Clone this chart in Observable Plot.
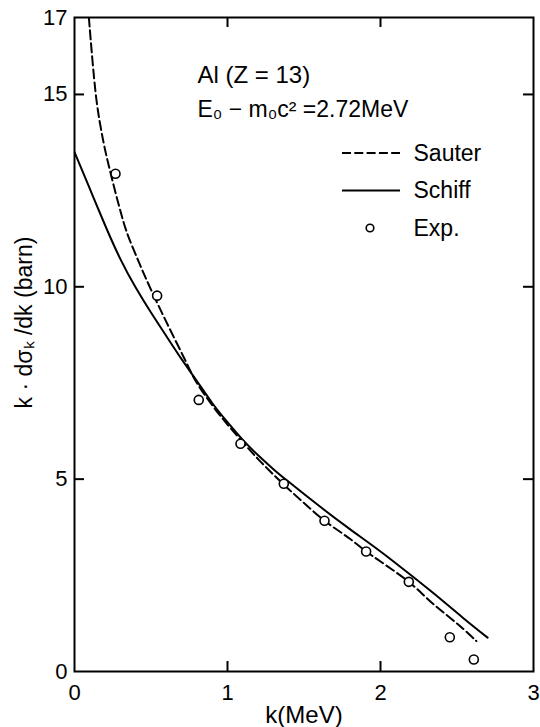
<!DOCTYPE html>
<html><head><meta charset="utf-8">
<script src="https://cdn.jsdelivr.net/npm/d3@7"></script>
<script src="https://cdn.jsdelivr.net/npm/@observablehq/plot@0.6"></script>
<style>
body{margin:0;background:#fff;}
</style>
</head><body><div id="chart"></div>
<script>
// ---- data ----
const sauterK = [0.094, 0.144, 0.19, 0.235, 0.29, 0.34, 0.425, 0.503, 0.606, 0.714, 0.791, 0.9, 1.0, 1.1, 1.2, 1.3, 1.4, 1.5, 1.634, 1.8, 1.906, 2.0, 2.185, 2.349, 2.523, 2.627];
const sauterY = [17.0, 14.84, 13.75, 12.97, 12.12, 11.44, 10.6, 9.90, 9.04, 8.17, 7.56, 6.92, 6.42, 5.96, 5.52, 5.12, 4.74, 4.38, 3.92, 3.45, 3.12, 2.86, 2.33, 1.74, 1.17, 0.79];
const schiffK = [0, 0.1, 0.2, 0.3, 0.4, 0.5, 0.6, 0.7, 0.8, 0.9, 1.0, 1.1, 1.2, 1.3, 1.4, 1.6, 1.8, 2.0, 2.2, 2.4, 2.55, 2.7];
const schiffY = [13.5, 12.55, 11.6, 10.72, 9.98, 9.33, 8.72, 8.12, 7.55, 6.98, 6.48, 6.02, 5.62, 5.26, 4.93, 4.3, 3.7, 3.12, 2.5, 1.86, 1.36, 0.88];
const expK = [0.268, 0.54, 0.812, 1.085, 1.368, 1.634, 1.906, 2.185, 2.453, 2.610];
const expY = [12.94, 9.77, 7.06, 5.92, 4.88, 3.92, 3.12, 2.33, 0.89, 0.31];

const xTickLabels = [0, 1, 2, 3];
const yTickLabels = [0, 5, 10, 15, 17];
const xInnerTicks = [1, 2];
const yInnerTicks = [5, 10, 15];

const xLabel = "k(MeV)";
const yLabel = "k · dσₖ /dk (barn)";
const note1 = "Al (Z = 13)";
const note2 = "E₀ − m₀c² =2.72MeV";
const legendLabels = ["Sauter", "Schiff", "Exp."];
const legendKinds = ["dash", "solid", "dot"];

// ---- layout ----
const W = 540, H = 727, mL = 74, mR = 7, mT = 17, mB = 56;
const fw = W - mL - mR, fh = H - mT - mB;
const font = "'Liberation Sans', Arial, sans-serif";
const rowGap = 37.5;

const sauter = sauterK.map((k, i) => ({k, v: sauterY[i]}));
const schiff = schiffK.map((k, i) => ({k, v: schiffY[i]}));
const exp = expK.map((k, i) => ({k, v: expY[i]}));
const legend = legendLabels.map((label, i) => ({label, kind: legendKinds[i], i}));

function legendSwatches() {
  const g = d3.create("svg:g").attr("fill", "none").attr("stroke", "#000").attr("stroke-width", 2);
  legend.forEach(d => {
    const y = 153 + d.i * rowGap;
    if (d.kind === "dot") {
      g.append("circle").attr("cx", 370).attr("cy", y).attr("r", 3.8)
        .attr("fill", "#fff").attr("stroke-width", 1.6);
    } else {
      const l = g.append("line").attr("x1", 342).attr("x2", 400).attr("y1", y).attr("y2", y);
      if (d.kind === "dash") l.attr("stroke-dasharray", "9,3.3");
    }
  });
  return g.node();
}

const legendText = legend.map(d =>
  Plot.text([d.label], {frameAnchor: "top-left", dx: 339, dy: 136 + d.i * rowGap, fontSize: 23, textAnchor: "start", lineAnchor: "middle"})
);

const chart = Plot.plot({
  width: W, height: H,
  marginLeft: mL, marginRight: mR, marginTop: mT, marginBottom: mB,
  x: {domain: [0, 3], axis: null, label: null},
  y: {domain: [0, 17], axis: null, label: null},
  style: {fontFamily: font, background: "#fff", color: "#000"},
  marks: [
    Plot.line(sauter, {x: "k", y: "v", stroke: "#000", strokeWidth: 2, strokeDasharray: "9,4", curve: "catmull-rom", clip: true}),
    Plot.line(schiff, {x: "k", y: "v", stroke: "#000", strokeWidth: 2, curve: "natural", clip: true}),
    Plot.dot(exp, {x: "k", y: "v", r: 4.5, stroke: "#000", strokeWidth: 1.6, fill: "#fff"}),
    Plot.frame({stroke: "#000", strokeWidth: 2}),
    Plot.ruleX(xInnerTicks, {insetTop: fh - 10, stroke: "#000", strokeWidth: 2}),
    Plot.ruleX(xInnerTicks, {insetBottom: fh - 10, stroke: "#000", strokeWidth: 2}),
    Plot.ruleY(yInnerTicks, {insetRight: fw - 10, stroke: "#000", strokeWidth: 2}),
    Plot.ruleY(yInnerTicks, {insetLeft: fw - 10, stroke: "#000", strokeWidth: 2}),
    Plot.axisX(xTickLabels, {anchor: "bottom", tickSize: 0, tickPadding: 13, fontSize: 22, label: null, tickFormat: d => String(d)}),
    Plot.axisY(yTickLabels, {anchor: "left", tickSize: 0, tickPadding: 7, fontSize: 22, label: null, tickFormat: d => String(d)}),
    Plot.text([xLabel], {frameAnchor: "bottom", dy: 44, fontSize: 24, lineAnchor: "middle", textAnchor: "middle"}),
    Plot.text([yLabel], {frameAnchor: "left", dx: -50, dy: -22, rotate: -90, fontSize: 23, lineAnchor: "middle", textAnchor: "middle"}),
    Plot.text([note1], {frameAnchor: "top-left", dx: 123, dy: 58, fontSize: 24, textAnchor: "start", lineAnchor: "middle"}),
    Plot.text([note2], {frameAnchor: "top-left", dx: 123, dy: 92, fontSize: 23, textAnchor: "start", lineAnchor: "middle"}),
    ...legendText,
    legendSwatches
  ]
});
document.getElementById("chart").appendChild(chart);
</script>
</body></html>
